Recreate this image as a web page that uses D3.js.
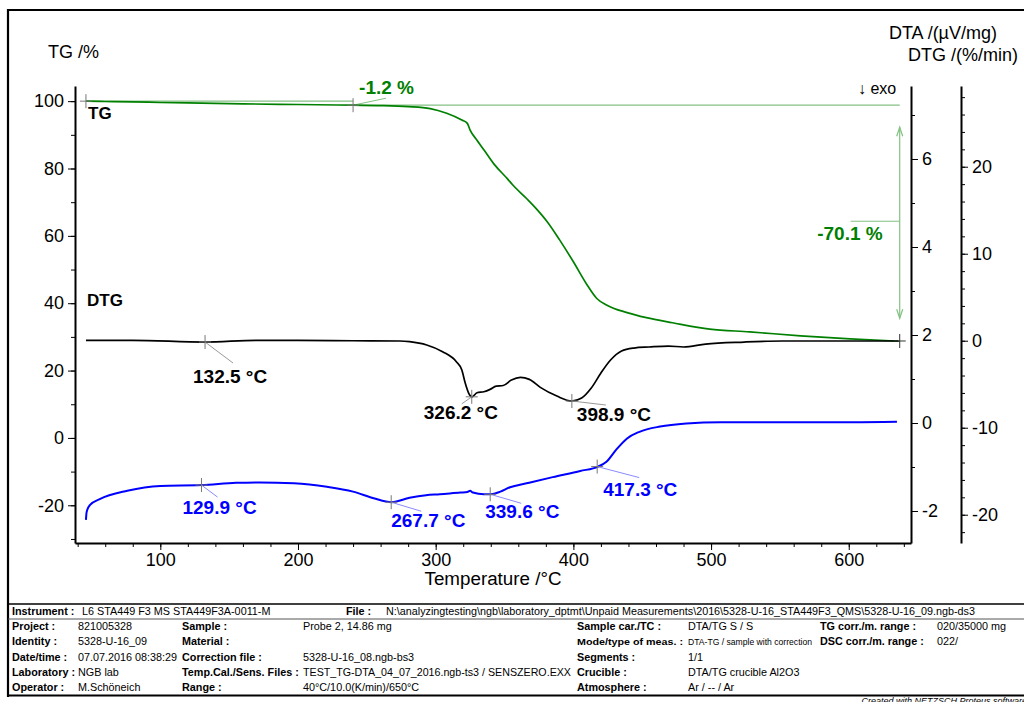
<!DOCTYPE html>
<html><head><meta charset="utf-8">
<script src="https://cdn.jsdelivr.net/npm/d3@7"></script>
<style>
body{margin:0;background:#fff;}
svg{display:block;font-family:"Liberation Sans",Arial,Helvetica,sans-serif;}
</style></head><body>
<svg id="c" width="1024" height="702"></svg>
<script>
// ---------- data ----------
const tgTemp = [46, 60, 80, 100, 130, 160, 200, 240, 260, 280, 296, 308, 319, 323, 325, 330, 337, 343, 352, 356, 366, 373, 381, 390, 400, 410, 417, 424, 439, 453, 472, 499, 528, 565, 601, 637];
const tgPct  = [100.0, 99.9, 99.8, 99.6, 99.4, 99.2, 99.0, 98.8, 98.7, 98.4, 97.8, 96.4, 94.4, 93.4, 91.4, 88.4, 84.4, 81.0, 77.0, 75.1, 71.1, 68.1, 64.2, 58.8, 52.3, 45.4, 41.4, 39.5, 37.2, 35.7, 34.2, 32.3, 31.5, 30.3, 29.4, 28.7];

const dtgTemp = [46, 80, 132.5, 170, 200, 240, 274, 281, 293.5, 305, 315, 319, 321.5, 324, 326.4, 330, 335, 339.5, 344, 349, 355, 361.5, 368, 376, 388, 398.9, 406, 413, 420, 427, 435, 444, 455, 469, 480, 496, 524, 552, 580, 607, 636];
const dtgRate = [0.05, 0.05, -0.15, 0.05, 0.05, 0.0, -0.03, -0.11, -0.49, -1.26, -2.41, -3.36, -4.90, -6.05, -6.45, -5.98, -5.86, -5.59, -5.21, -5.15, -4.52, -4.22, -4.44, -5.36, -6.36, -6.93, -6.59, -5.44, -3.71, -2.22, -1.18, -0.84, -0.72, -0.61, -0.72, -0.38, -0.15, -0.03, -0.03, -0.03, -0.03];

const dtaTemp = [46, 46.5, 49, 56, 76, 100, 130, 155, 172, 197, 221, 240, 255, 268, 281, 293, 303, 318, 323, 325, 327, 335, 340, 347, 354, 366, 385, 405, 418, 424, 431, 439, 448, 463, 482, 507, 555, 603, 635];
const dtaSig  = [-2.20, -2.02, -1.86, -1.73, -1.54, -1.43, -1.41, -1.36, -1.35, -1.37, -1.45, -1.56, -1.71, -1.80, -1.70, -1.64, -1.62, -1.58, -1.57, -1.54, -1.58, -1.62, -1.62, -1.56, -1.46, -1.37, -1.23, -1.09, -0.99, -0.88, -0.61, -0.35, -0.20, -0.08, -0.01, 0.02, 0.02, 0.02, 0.03];

// peak / step markers
const dtgMarkT = [132.5, 326.2, 398.9];
const dtgMarkV = [-0.15, -6.45, -6.93];
const dtgMarkText = ["132.5 °C", "326.2 °C", "398.9 °C"];
const dtaMarkT = [129.9, 267.7, 339.6, 417.3];
const dtaMarkV = [-1.41, -1.80, -1.62, -0.99];
const dtaMarkText = ["129.9 °C", "267.7 °C", "339.6 °C", "417.3 °C"];
const tgStepT = [46, 240, 637];
const tgStepV = [100.0, 98.8, 28.7];
const tgStepText = ["-1.2 %", "-70.1 %"];

const xTicks = [100, 200, 300, 400, 500, 600];
const tgTicks = [-20, 0, 20, 40, 60, 80, 100];
const dtaTicks = [-2, 0, 2, 4, 6];
const dtgTicks = [-20, -10, 0, 10, 20];

// ---------- scales ----------
const svg = d3.select("#c");
const L = 75, R = 911, T = 86, B = 543, R2 = 961;
const x = d3.scaleLinear().domain([38.05, 645.2]).range([L, R]);
const yTG = d3.scaleLinear().domain([-31.2, 104.5]).range([B, T]);
const yDTA = d3.scaleLinear().domain([-2.727, 7.659]).range([B, T]);
const yDTG = d3.scaleLinear().domain([-23.25, 29.28]).range([B, T]);

const green = "#008000", lightGreen = "#84c184", blue = "#0000ff", gray = "#777";
const tickFont = 18, annFont = 19;

// frame
svg.append("path").attr("d", "M8,697V10H1030").attr("fill", "none").attr("stroke", "#000").attr("stroke-width", 2.2);

function styleAxis(g) {
  g.selectAll("path.domain").attr("stroke", "#000").attr("stroke-width", 2);
  g.selectAll(".tick line").attr("stroke", "#000").attr("stroke-width", 1);
  g.selectAll("text").attr("fill", "#000").attr("font-size", tickFont).attr("font-family", '"Liberation Sans",Arial,sans-serif');
}

// x axis
const gx = svg.append("g").attr("transform", `translate(0,${B})`)
  .call(d3.axisBottom(x).tickValues(d3.range(40, 645, 20)).tickSize(4).tickFormat("").tickSizeOuter(0));
styleAxis(gx);
const gx2 = svg.append("g").attr("transform", `translate(0,${B})`)
  .call(d3.axisBottom(x).tickValues(xTicks).tickSize(7).tickPadding(3).tickFormat(d => String(d)).tickSizeOuter(0));
styleAxis(gx2);
gx2.select("path.domain").remove();

// left TG axis
const gy = svg.append("g").attr("transform", `translate(${L},0)`)
  .call(d3.axisLeft(yTG).tickValues(d3.range(-30, 101, 10)).tickSize(4).tickFormat("").tickSizeOuter(0));
styleAxis(gy);
const gy2 = svg.append("g").attr("transform", `translate(${L},0)`)
  .call(d3.axisLeft(yTG).tickValues(tgTicks).tickSize(7).tickPadding(4).tickFormat(d => String(d)).tickSizeOuter(0));
styleAxis(gy2); gy2.select("path.domain").remove();

// DTA axis
const gd = svg.append("g").attr("transform", `translate(${R},0)`)
  .call(d3.axisRight(yDTA).tickValues(d3.range(-2, 8, 1)).tickSize(4).tickFormat("").tickSizeOuter(0));
styleAxis(gd);
const gd2 = svg.append("g").attr("transform", `translate(${R},0)`)
  .call(d3.axisRight(yDTA).tickValues(dtaTicks).tickSize(7).tickPadding(4).tickFormat(d => String(d)).tickSizeOuter(0));
styleAxis(gd2); gd2.select("path.domain").remove();

// DTG axis
const gg = svg.append("g").attr("transform", `translate(${R2},0)`)
  .call(d3.axisRight(yDTG).tickValues(d3.range(-22, 29, 2)).tickSize(4).tickFormat("").tickSizeOuter(0));
styleAxis(gg);
const gg2 = svg.append("g").attr("transform", `translate(${R2},0)`)
  .call(d3.axisRight(yDTG).tickValues(dtgTicks).tickSize(7).tickPadding(4).tickFormat(d => String(d)).tickSizeOuter(0));
styleAxis(gg2); gg2.select("path.domain").remove();

// axis titles
const txt = (X, Y, s, o = {}) => {
  const t = svg.append("text").attr("x", X).attr("y", Y).text(s)
    .attr("font-size", o.size || tickFont).attr("font-weight", o.weight || "normal")
    .attr("fill", o.fill || "#000").attr("text-anchor", o.anchor || "start")
    .attr("font-style", o.style || "normal");
  if (o.len) t.attr("textLength", o.len).attr("lengthAdjust", "spacingAndGlyphs");
  return t;
};
txt(48, 58, "TG /%");
txt(997, 39, "DTA /(µV/mg)", {anchor: "end"});
txt(1018, 61, "DTG /(%/min)", {anchor: "end"});
txt(858, 94, "↓ exo", {size: 16});
txt(493, 585, "Temperature /°C", {anchor: "middle", size: 18.8});

// reference lines for TG step
const tgX0 = x(tgStepT[0]), tgX1 = x(tgStepT[1]), tgX2 = x(tgStepT[2]);
svg.append("line").attr("x1", tgX0).attr("x2", tgX1).attr("y1", yTG(tgStepV[0])).attr("y2", yTG(tgStepV[0]))
  .attr("stroke", lightGreen).attr("stroke-width", 1.2);
svg.append("line").attr("x1", tgX1).attr("x2", tgX2).attr("y1", yTG(tgStepV[1])).attr("y2", yTG(tgStepV[1]))
  .attr("stroke", lightGreen).attr("stroke-width", 1.2);

// double arrow
const arrTop = yTG(tgStepV[1]) + 22, arrBot = yTG(tgStepV[2]) - 23;
svg.append("line").attr("x1", tgX2).attr("x2", tgX2).attr("y1", arrTop).attr("y2", arrBot).attr("stroke", lightGreen).attr("stroke-width", 1.2);
svg.append("path").attr("d", `M${tgX2 - 3},${arrTop + 9}L${tgX2},${arrTop}L${tgX2 + 3},${arrTop + 9}M${tgX2 - 3},${arrBot - 9}L${tgX2},${arrBot}L${tgX2 + 3},${arrBot - 9}`)
  .attr("fill", "none").attr("stroke", lightGreen).attr("stroke-width", 1.2);
const midY = (yTG(tgStepV[1]) + yTG(tgStepV[2])) / 2 - 2;
svg.append("line").attr("x1", tgX2 - 49).attr("x2", tgX2).attr("y1", midY).attr("y2", midY).attr("stroke", lightGreen).attr("stroke-width", 1);
txt(tgX2 - 17, midY + 19, tgStepText[1], {anchor: "end", weight: "bold", size: annFont, fill: green});

// -1.2% label
svg.append("line").attr("x1", tgX1).attr("y1", yTG(tgStepV[1])).attr("x2", tgX1 + 33).attr("y2", yTG(tgStepV[1]) - 7)
  .attr("stroke", lightGreen).attr("stroke-width", 1);
txt(tgX1 + 6, yTG(tgStepV[1]) - 11, tgStepText[0], {weight: "bold", size: annFont, fill: green});

// curves
const lineGen = (ys) => d3.line().x(d => x(d[0])).y(d => ys(d[1])).curve(d3.curveMonotoneX);
svg.append("path").datum(d3.zip(tgTemp, tgPct)).attr("d", lineGen(yTG)).attr("fill", "none").attr("stroke", green).attr("stroke-width", 1.7);
svg.append("path").datum(d3.zip(dtgTemp, dtgRate)).attr("d", lineGen(yDTG)).attr("fill", "none").attr("stroke", "#000").attr("stroke-width", 1.7);
svg.append("path").datum(d3.zip(dtaTemp, dtaSig)).attr("d", lineGen(yDTA)).attr("fill", "none").attr("stroke", blue).attr("stroke-width", 2);

// markers
function cross(X, Y, col) {
  svg.append("path").attr("d", `M${X - 6},${Y}H${X + 6}M${X},${Y - 7}V${Y + 7}`).attr("stroke", col || gray).attr("stroke-width", 1);
}
cross(tgX0, yTG(tgStepV[0]));
cross(tgX1, yTG(tgStepV[1]));
cross(tgX2, yDTG(dtgRate[dtgRate.length - 1]), "#333");

// DTG annotations
const dtgOff = [[28, 21, -12, 41], [-10, 7, -48, 22], [34, 4, 5, 20]];
dtgMarkT.forEach((t, i) => {
  const X = x(t), Y = yDTG(dtgMarkV[i]), o = dtgOff[i];
  svg.append("line").attr("x1", X).attr("y1", Y).attr("x2", X + o[0]).attr("y2", Y + o[1]).attr("stroke", "#999").attr("stroke-width", 1);
  cross(X, Y);
  txt(X + o[2], Y + o[3], dtgMarkText[i], {weight: "bold", size: annFont});
});
// DTA annotations
const dtaOff = [[16, 12, -19, 29], [30, 9, 0, 25], [31, 9, -5, 24], [42, 11, 6, 29]];
dtaMarkT.forEach((t, i) => {
  const X = x(t), Y = yDTA(dtaMarkV[i]), o = dtaOff[i];
  svg.append("line").attr("x1", X).attr("y1", Y).attr("x2", X + o[0]).attr("y2", Y + o[1]).attr("stroke", "#8a8aff").attr("stroke-width", 1);
  cross(X, Y);
  txt(X + o[2], Y + o[3], dtaMarkText[i], {weight: "bold", size: annFont, fill: blue});
});

// curve labels
txt(88, 119, "TG", {weight: "bold", size: 17});
txt(87, 306, "DTG", {weight: "bold", size: 17});

// ---------- info table ----------
const tb = svg.append("g").attr("font-size", 10.8);
svg.append("line").attr("x1", 8).attr("x2", 1030).attr("y1", 604).attr("y2", 604).attr("stroke", "#000").attr("stroke-width", 1.5);
svg.append("line").attr("x1", 8).attr("x2", 1030).attr("y1", 619).attr("y2", 619).attr("stroke", "#555").attr("stroke-width", 1);
svg.append("line").attr("x1", 8).attr("x2", 1030).attr("y1", 695.5).attr("y2", 695.5).attr("stroke", "#000").attr("stroke-width", 2);

const cell = (X, Y, s, bold, len, fs) => {
  const t = tb.append("text").attr("x", X).attr("y", Y).text(s).attr("font-weight", bold ? "bold" : "normal").attr("fill", "#000");
  if (fs) t.attr("font-size", fs);
  if (len) t.attr("textLength", len).attr("lengthAdjust", "spacingAndGlyphs");
  return t;
};
cell(12, 615, "Instrument :", true);
cell(82, 615, "L6 STA449 F3 MS STA449F3A-0011-M");
cell(346, 615, "File :", true);
cell(386, 615, "N:\\analyzingtesting\\ngb\\laboratory_dptmt\\Unpaid Measurements\\2016\\5328-U-16_STA449F3_QMS\\5328-U-16_09.ngb-ds3", false, 589);

const rowsY = [630, 645, 661, 676, 691];
const c1l = ["Project :", "Identity :", "Date/time :", "Laboratory :", "Operator :"];
const c1v = ["821005328", "5328-U-16_09", "07.07.2016 08:38:29", "NGB lab", "M.Schöneich"];
const c2l = ["Sample :", "Material :", "Correction file :", "Temp.Cal./Sens. Files :", "Range :"];
const c2v = ["Probe 2, 14.86 mg", "", "5328-U-16_08.ngb-bs3", "TEST_TG-DTA_04_07_2016.ngb-ts3 / SENSZERO.EXX", "40°C/10.0(K/min)/650°C"];
const c3l = ["Sample car./TC :", "Mode/type of meas. :", "Segments :", "Crucible :", "Atmosphere :"];
const c3v = ["DTA/TG S / S", "DTA-TG / sample with correction", "1/1", "DTA/TG crucible Al2O3", "Ar / -- / Ar"];
const c4l = ["TG corr./m. range :", "DSC corr./m. range :", "", "", ""];
const c4v = ["020/35000 mg", "022/", "", "", ""];
rowsY.forEach((Y, i) => {
  cell(12, Y, c1l[i], true); cell(78, Y, c1v[i]);
  cell(182, Y, c2l[i], true); cell(303, Y, c2v[i], false, i === 3 ? 268 : null);
  cell(577, Y, c3l[i], true, i === 1 ? 106 : null, i === 1 ? 9.8 : null);
  cell(688, Y, c3v[i], false, i === 1 ? 124 : null, i === 1 ? 8.6 : null);
  cell(820, Y, c4l[i], true); cell(937, Y, c4v[i]);
});
txt(1027, 704, "Created with NETZSCH Proteus software", {anchor: "end", size: 9, style: "italic"});
</script>
</body></html>
